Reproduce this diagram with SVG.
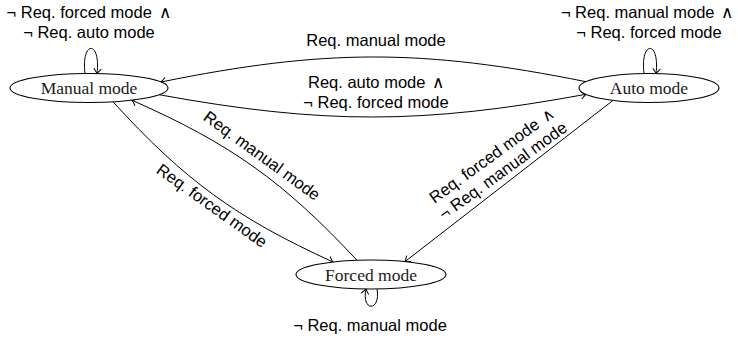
<svg xmlns="http://www.w3.org/2000/svg" width="738" height="342" viewBox="0 0 738 342">
<style>
.node ellipse{fill:#fff;stroke:#000;stroke-width:1.1}
.node text{font-family:"Liberation Serif","DejaVu Serif",serif;font-size:17.5px;fill:#1a1a1a;text-anchor:middle}
.edge path{fill:none;stroke:#000;stroke-width:1}
.lbl{font-family:"Liberation Sans","DejaVu Sans",sans-serif;font-size:16.5px;fill:#000;text-anchor:middle}
.w{font-family:"DejaVu Sans",sans-serif;font-weight:200}
</style>
<defs>
<marker id="arr" markerUnits="userSpaceOnUse" markerWidth="12" markerHeight="12" viewBox="-6 -6 12 12" refX="0" refY="0" orient="auto">
<path d="M-5,-3.8 Q-1.5,-0.8 0,0 Q-1.5,0.8 -5,3.8" fill="none" stroke="#000" stroke-width="1"/>
</marker>
</defs>
<g id="connectors" class="edge">
<path d="M586,81.7 C422,48.7 325,48.7 161,82" marker-end="url(#arr)"/>
<path d="M159,94.7 C323,124.5 422,124.5 586,94.3" marker-end="url(#arr)"/>
<path d="M113,101.8 C184.8,180.5 236.1,217.8 333,262" marker-end="url(#arr)"/>
<path d="M357,260.3 C283.2,181.2 230.9,144 132,100.2" marker-end="url(#arr)"/>
<path d="M613,100.4 L405,261.6" marker-end="url(#arr)"/>
<path d="M85,73.6 C81,40 101,40 97,73.6" marker-end="url(#arr)"/>
<path d="M644,73.6 C640,40 660,40 656,73.6" marker-end="url(#arr)"/>
<path d="M377,288.9 C381,312 361,312 366,288.9" marker-end="url(#arr)"/>
</g>
<g id="labels">
<text class="lbl" x="89" y="17.5">¬ Req. forced mode <tspan class="w" dx="3">∧</tspan></text>
<text class="lbl" x="89" y="37.5">¬ Req. auto mode</text>
<text class="lbl" x="647" y="17.5">¬ Req. manual mode <tspan class="w" dx="2">∧</tspan></text>
<text class="lbl" x="649" y="37.5">¬ Req. forced mode</text>
<text class="lbl" x="376" y="46">Req. manual mode</text>
<text class="lbl" x="376" y="88">Req. auto mode <tspan class="w" dx="2">∧</tspan></text>
<text class="lbl" x="376" y="108">¬ Req. forced mode</text>
<text class="lbl" x="370" y="331">¬ Req. manual mode</text>
<g transform="translate(211,207) rotate(35.5)"><text class="lbl" x="0" y="4">Req. forced mode</text></g>
<g transform="translate(261,157) rotate(36)"><text class="lbl" x="0" y="4">Req. manual mode</text></g>
<g transform="translate(498,164) rotate(-36)"><text class="lbl" x="0" y="-5">Req. forced mode <tspan class="w" dx="2">∧</tspan></text><text class="lbl" x="0" y="14">¬ Req. manual mode</text></g>
</g>
<g id="manual" class="node"><ellipse cx="89" cy="88" rx="79" ry="14.5"/><text x="89" y="94">Manual mode</text></g>
<g id="auto" class="node"><ellipse cx="649" cy="88" rx="70" ry="14.5"/><text x="649" y="94">Auto mode</text></g>
<g id="forced" class="node"><ellipse cx="371" cy="274.5" rx="75" ry="14.5"/><text x="371" y="280.5">Forced mode</text></g>
</svg>
